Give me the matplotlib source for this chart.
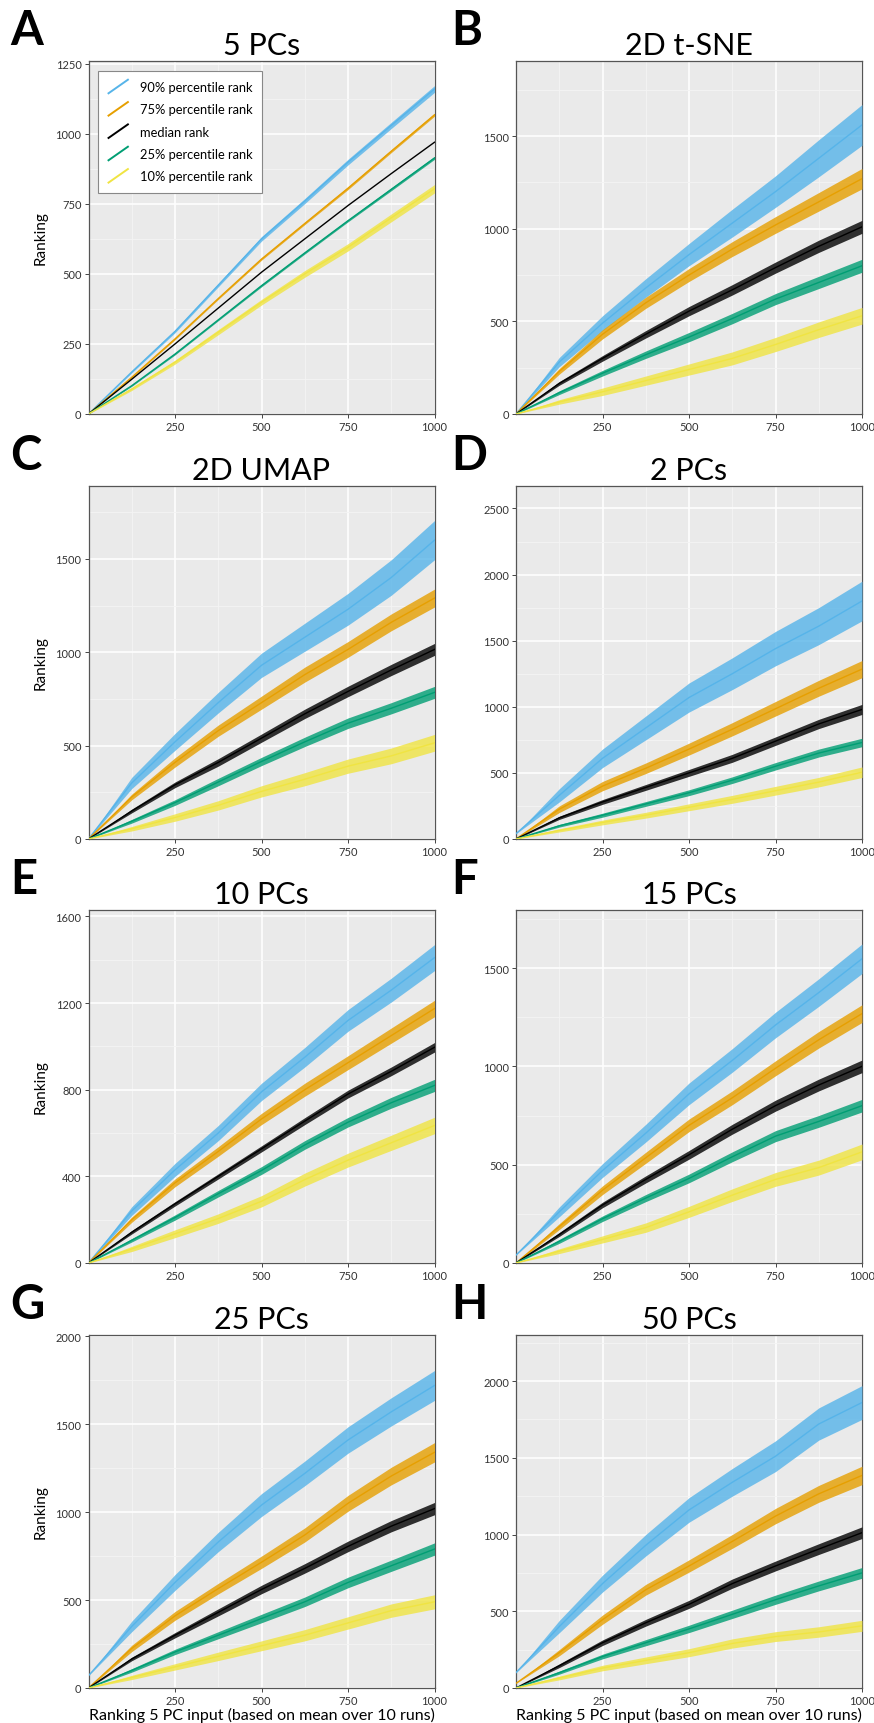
import matplotlib
matplotlib.use("Agg")
import matplotlib.pyplot as plt
import numpy as np
from matplotlib.legend_handler import HandlerBase
from matplotlib.lines import Line2D

plt.rcParams['font.family'] = ['Lato', 'DejaVu Sans']

ranks = [0, 125, 250, 375, 500, 625, 750, 875, 1000]

series_names = ['90% percentile rank', '75% percentile rank', 'median rank',
                '25% percentile rank', '10% percentile rank']
series_colors = ['#56B4E9', '#E69F00', '#000000', '#009E73', '#F0E442']

panel_letters = ['A', 'B', 'C', 'D', 'E', 'F', 'G', 'H']
panel_titles = ['5 PCs', '2D t-SNE', '2D UMAP', '2 PCs',
                '10 PCs', '15 PCs', '25 PCs', '50 PCs']
panel_ymax = [1260, 1905, 1890, 2670, 1630, 1795, 2007, 2300]
panel_yticks = [[0, 250, 500, 750, 1000, 1250],
                [0, 500, 1000, 1500],
                [0, 500, 1000, 1500],
                [0, 500, 1000, 1500, 2000, 2500],
                [0, 400, 800, 1200, 1600],
                [0, 500, 1000, 1500],
                [0, 500, 1000, 1500, 2000],
                [0, 500, 1000, 1500, 2000]]

# band centre (rows: 90%, 75%, median, 25%, 10%)
mid_a = [[0, 150, 295, 460, 625, 760, 899, 1030, 1160],
         [0, 131, 268, 412, 553, 680, 806, 938, 1068],
         [0, 124, 250, 378, 506, 625, 744, 858, 970],
         [0, 101, 214, 336, 458, 575, 690, 802, 914],
         [0, 89, 185, 292, 399, 500, 595, 700, 804]]
mid_b = [[0, 280, 490, 680, 860, 1030, 1200, 1380, 1560],
         [0, 230, 430, 600, 750, 890, 1020, 1145, 1270],
         [0, 165, 300, 430, 555, 670, 790, 905, 1010],
         [0, 115, 220, 320, 415, 515, 620, 710, 800],
         [0, 65, 120, 180, 240, 300, 375, 455, 530]]
mid_c = [[0, 300, 520, 730, 930, 1080, 1230, 1400, 1600],
         [0, 225, 410, 580, 730, 880, 1015, 1160, 1290],
         [0, 150, 290, 410, 540, 670, 790, 905, 1015],
         [0, 95, 195, 305, 415, 520, 620, 700, 785],
         [0, 55, 115, 180, 255, 320, 390, 445, 515]]
mid_d = [[40, 330, 610, 840, 1070, 1250, 1440, 1610, 1800],
         [0, 225, 400, 535, 680, 830, 985, 1140, 1285],
         [0, 160, 280, 390, 500, 610, 740, 870, 980],
         [0, 100, 180, 265, 350, 445, 550, 650, 730],
         [0, 65, 125, 180, 240, 300, 365, 430, 505]]
mid_e = [[0, 240, 430, 600, 790, 950, 1120, 1260, 1410],
         [0, 200, 370, 515, 665, 800, 925, 1050, 1175],
         [0, 142, 273, 400, 527, 655, 780, 885, 996],
         [0, 105, 210, 320, 427, 545, 650, 740, 820],
         [0, 65, 135, 205, 285, 385, 475, 555, 635]]
mid_f = [[40, 260, 470, 660, 860, 1030, 1210, 1375, 1547],
         [0, 185, 370, 535, 700, 840, 990, 1135, 1268],
         [0, 145, 295, 425, 550, 680, 800, 905, 1000],
         [0, 110, 225, 330, 430, 540, 645, 720, 800],
         [0, 60, 120, 180, 260, 345, 425, 485, 565]]
mid_g = [[70, 350, 600, 830, 1040, 1220, 1410, 1570, 1720],
         [0, 225, 410, 565, 715, 870, 1050, 1205, 1340],
         [0, 165, 300, 430, 560, 680, 805, 920, 1020],
         [0, 100, 205, 300, 395, 490, 600, 695, 790],
         [0, 60, 120, 180, 240, 300, 370, 440, 490]]
mid_h = [[100, 400, 680, 930, 1160, 1340, 1510, 1720, 1860],
         [30, 230, 445, 640, 795, 955, 1120, 1265, 1385],
         [0, 145, 295, 425, 545, 680, 795, 905, 1012],
         [0, 100, 205, 295, 385, 480, 575, 665, 750],
         [0, 65, 130, 180, 230, 290, 335, 365, 405]]

# half height of the noisy band around the centre
half_a = [[0, 3, 5, 6, 8, 9, 10, 11, 12],
          [0, 2, 3, 3, 4, 4, 5, 5, 5],
          [0, 0, 0, 0, 0, 0, 0, 0, 0],
          [0, 2, 3, 3, 4, 4, 4, 5, 5],
          [0, 5, 7, 9, 10, 12, 13, 14, 15]]
half_b = [[0, 25, 40, 50, 60, 75, 85, 100, 110],
          [0, 15, 25, 30, 35, 40, 45, 50, 55],
          [0, 10, 15, 20, 25, 28, 30, 33, 35],
          [0, 10, 15, 20, 25, 28, 30, 33, 35],
          [0, 12, 20, 25, 30, 35, 38, 42, 45]]
half_c = [[0, 30, 45, 55, 65, 75, 85, 95, 105],
          [0, 15, 25, 30, 35, 40, 42, 45, 48],
          [0, 10, 15, 20, 22, 25, 28, 30, 32],
          [0, 10, 15, 20, 22, 25, 28, 30, 32],
          [0, 12, 20, 25, 30, 35, 38, 42, 45]]
half_d = [[0, 50, 70, 90, 110, 120, 130, 140, 150],
          [0, 25, 35, 40, 45, 50, 55, 60, 65],
          [0, 12, 18, 22, 26, 30, 32, 35, 38],
          [0, 10, 15, 18, 22, 25, 28, 30, 32],
          [0, 12, 18, 22, 26, 30, 33, 36, 40]]
half_e = [[0, 20, 30, 35, 40, 45, 50, 55, 60],
          [0, 12, 18, 22, 26, 30, 32, 35, 38],
          [0, 8, 10, 12, 14, 16, 18, 20, 22],
          [0, 8, 12, 15, 18, 20, 22, 25, 28],
          [0, 12, 18, 22, 26, 30, 32, 35, 38]]
half_f = [[0, 25, 35, 45, 55, 60, 65, 70, 75],
          [0, 15, 22, 28, 32, 35, 38, 42, 45],
          [0, 10, 14, 18, 22, 25, 28, 30, 32],
          [0, 10, 14, 18, 22, 25, 28, 30, 32],
          [0, 12, 18, 24, 28, 32, 35, 38, 40]]
half_g = [[0, 30, 45, 55, 65, 70, 75, 80, 85],
          [0, 18, 25, 30, 35, 40, 45, 50, 55],
          [0, 10, 15, 20, 24, 27, 30, 32, 35],
          [0, 10, 15, 20, 24, 27, 30, 32, 35],
          [0, 12, 18, 24, 28, 32, 35, 38, 40]]
half_h = [[0, 40, 55, 70, 80, 90, 100, 105, 110],
          [0, 20, 30, 35, 40, 45, 50, 55, 60],
          [0, 12, 18, 22, 26, 30, 32, 35, 38],
          [0, 10, 15, 20, 24, 27, 30, 32, 35],
          [0, 12, 18, 22, 26, 30, 32, 34, 36]]

mids = [mid_a, mid_b, mid_c, mid_d, mid_e, mid_f, mid_g, mid_h]
halves = [half_a, half_b, half_c, half_d, half_e, half_f, half_g, half_h]


class DiagHandler(HandlerBase):
    # legend handle drawn as a slanted line
    def create_artists(self, legend, orig_handle, xdescent, ydescent,
                       width, height, fontsize, trans):
        ln = Line2D([-xdescent, width - xdescent],
                    [-ydescent - 0.25 * height, height - ydescent + 0.25 * height],
                    color=orig_handle.get_color(), lw=1.4, transform=trans)
        return [ln]


W, H = 874, 1724
fig = plt.figure(figsize=(W / 100, H / 100), dpi=100)

col_left = [88.5, 516]
row_top = [62, 487, 911, 1336]
ax_w, ax_h = 346, 353

for i in range(8):
    r, c = divmod(i, 2)
    l, t = col_left[c], row_top[r]
    ax = fig.add_axes([l / W, 1 - (t + ax_h) / H, ax_w / W, ax_h / H])
    ax.set_facecolor('#EAEAEA')

    handles = []
    for j in range(5):
        m = np.array(mids[i][j], dtype=float)
        hw = np.array(halves[i][j], dtype=float)
        col = series_colors[j]
        if hw.max() > 0:
            ax.fill_between(ranks, m - hw, m + hw, color=col, alpha=0.8,
                            lw=0, zorder=3)
        h, = ax.plot(ranks, m, color=col, lw=1.0, zorder=4)
        handles.append(h)

    ax.set_xlim(0, 1000)
    ax.set_xticks([250, 500, 750, 1000])
    ax.set_xticks([125, 375, 625, 875], minor=True)
    yt = panel_yticks[i]
    ax.set_yticks(yt)
    ax.set_yticks([(a + b) / 2 for a, b in zip(yt[:-1], yt[1:])] +
                  [yt[-1] + (yt[1] - yt[0]) / 2], minor=True)
    ax.set_ylim(0, panel_ymax[i])

    ax.grid(which='major', color='white', lw=1.1, zorder=0)
    ax.grid(which='minor', color='#F4F4F4', lw=0.6, zorder=0)
    ax.set_axisbelow(True)
    ax.tick_params(which='major', labelsize=8, length=3, width=0.7,
                   colors='#444444', labelcolor='#333333', pad=2)
    ax.tick_params(which='minor', length=0)
    for sp in ax.spines.values():
        sp.set_color('#555555')
        sp.set_linewidth(0.9)

    ax.set_title(panel_titles[i], fontsize=22, pad=5)
    if c == 0:
        ax.set_ylabel('Ranking', fontsize=11, labelpad=6)
    if r == 3:
        ax.set_xlabel('Ranking 5 PC input (based on mean over 10 runs)',
                      fontsize=11.5, labelpad=1)

    fig.text((10 if c == 0 else 451) / W, 1 - (t - 17) / H, panel_letters[i],
             fontsize=34, fontweight='bold', va='baseline', ha='left')

    if i == 0:
        leg = ax.legend(handles, series_names, loc='upper left',
                        handler_map={Line2D: DiagHandler()},
                        fontsize=9.3, frameon=True, fancybox=False,
                        edgecolor='#888888', framealpha=1,
                        borderaxespad=0.75, handlelength=1.5,
                        labelspacing=0.8, borderpad=0.8, handletextpad=0.9)
        leg.get_frame().set_linewidth(0.8)

fig.savefig('out.png', dpi=100)
